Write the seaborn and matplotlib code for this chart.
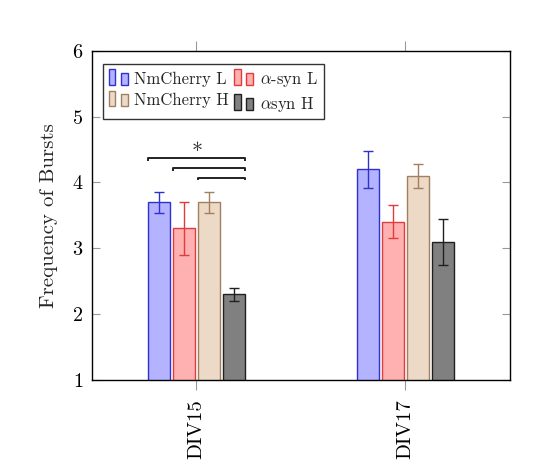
import numpy as np
import pandas as pd
import matplotlib.pyplot as plt
import seaborn as sns
from matplotlib.patches import Rectangle, Patch

days = ['DIV15', 'DIV17']
groups = ['NmCherry L', r'$\alpha$-syn L', 'NmCherry H', r'$\alpha$syn H']
means_div15 = [3.7, 3.3, 3.7, 2.3]
means_div17 = [4.2, 3.4, 4.1, 3.1]
err_div15 = [0.16, 0.4, 0.16, 0.1]
err_div17 = [0.28, 0.25, 0.18, 0.35]
fills = ['#b3b3ff', '#ffb0b0', '#ecd9c6', '#808080']
edges = ['#3030d0', '#e03c3c', '#a08060', '#202020']

# significance brackets on DIV15 (bar index compared with the last bar)
sig_starts = [0, 1, 2]
sig_levels = [4.37, 4.22, 4.07]

sns.set_style('white')
plt.rcParams['font.family'] = ['cmr10', 'DejaVu Serif']
plt.rcParams['mathtext.fontset'] = 'cm'
plt.rcParams['axes.formatter.use_mathtext'] = True


class PairHandler:
    # pgfplots-style ybar legend image: two small bars
    def legend_artist(self, legend, orig_handle, fontsize, handlebox):
        x0, y0 = handlebox.xdescent, handlebox.ydescent
        w, h = handlebox.width, handlebox.height
        fc, ec = orig_handle.get_facecolor(), orig_handle.get_edgecolor()
        tr = handlebox.get_transform()
        r1 = Rectangle((x0, y0 - 0.15 * h), w * 0.36, h * 1.1, facecolor=fc, edgecolor=ec, lw=1, transform=tr)
        r2 = Rectangle((x0 + w * 0.64, y0 - 0.15 * h), w * 0.36, h * 0.85, facecolor=fc, edgecolor=ec, lw=1, transform=tr)
        handlebox.add_artist(r1)
        handlebox.add_artist(r2)
        return r1


df = pd.DataFrame({'day': np.repeat(days, len(groups)),
                   'group': groups * len(days),
                   'freq': means_div15 + means_div17})

fig = plt.figure(figsize=(5.4, 4.66), dpi=100)
ax = fig.add_axes([0.170, 0.185, 0.774, 0.706])

sns.barplot(data=df, x='day', y='freq', hue='group', order=days, hue_order=groups,
            palette=fills, saturation=1, width=0.476, gap=0.11, errorbar=None,
            legend=False, ax=ax)

bar_groups = list(ax.containers)
errs = list(zip(err_div15, err_div17))
for i, cont in enumerate(bar_groups):
    for bar in cont:
        bar.set_edgecolor(edges[i])
        bar.set_linewidth(1)
    xs = [b.get_x() + b.get_width() / 2 for b in cont]
    ys = [b.get_height() for b in cont]
    ax.errorbar(xs, ys, yerr=errs[i], fmt='none', ecolor=edges[i],
                elinewidth=1, capsize=3.5, capthick=1, zorder=5)

last = bar_groups[-1][0]
x_end = last.get_x() + last.get_width()
for j, y in zip(sig_starts, sig_levels):
    x_start = bar_groups[j][0].get_x()
    ax.plot([x_start, x_start, x_end, x_end], [y - 0.04, y, y, y - 0.04],
            color='#222222', lw=1.4, solid_capstyle='butt')
ax.text(0, 4.56, r'$\ast$', ha='center', va='center', fontsize=16)

ax.set_xlim(-0.5, 1.5)
ax.set_ylim(1, 6)
ax.set_yticks([1, 2, 3, 4, 5, 6])
ax.set_xlabel('')
ax.set_ylabel('Frequency of Bursts', fontsize=15, labelpad=10)
ax.tick_params(axis='y', direction='in', left=True, right=True, length=6,
               color='0.6', labelcolor='black', labelsize=14.5, pad=6)
ax.tick_params(axis='x', direction='out', bottom=True, top=True, length=7,
               color='0.6', labelcolor='black', labelsize=15, labelrotation=90, pad=7)
for s in ax.spines.values():
    s.set_visible(True)
    s.set_color('black')
    s.set_linewidth(1)

# legend filled row by row like the reference
order = [0, 2, 1, 3]
handles = [Patch(facecolor=fills[i], edgecolor=edges[i]) for i in order]
labels = [groups[i] for i in order]
leg = ax.legend(handles, labels, ncol=2, loc='upper left', bbox_to_anchor=(0.026, 0.96),
                borderaxespad=0, fontsize=12, handler_map={Patch: PairHandler()},
                handlelength=1.15, handleheight=0.9, handletextpad=0.4,
                columnspacing=0.3, labelspacing=0.35, borderpad=0.35,
                fancybox=False, framealpha=1, edgecolor='#333333')
leg.get_frame().set_linewidth(1)

fig.savefig('out.png', dpi=100, facecolor='white')
